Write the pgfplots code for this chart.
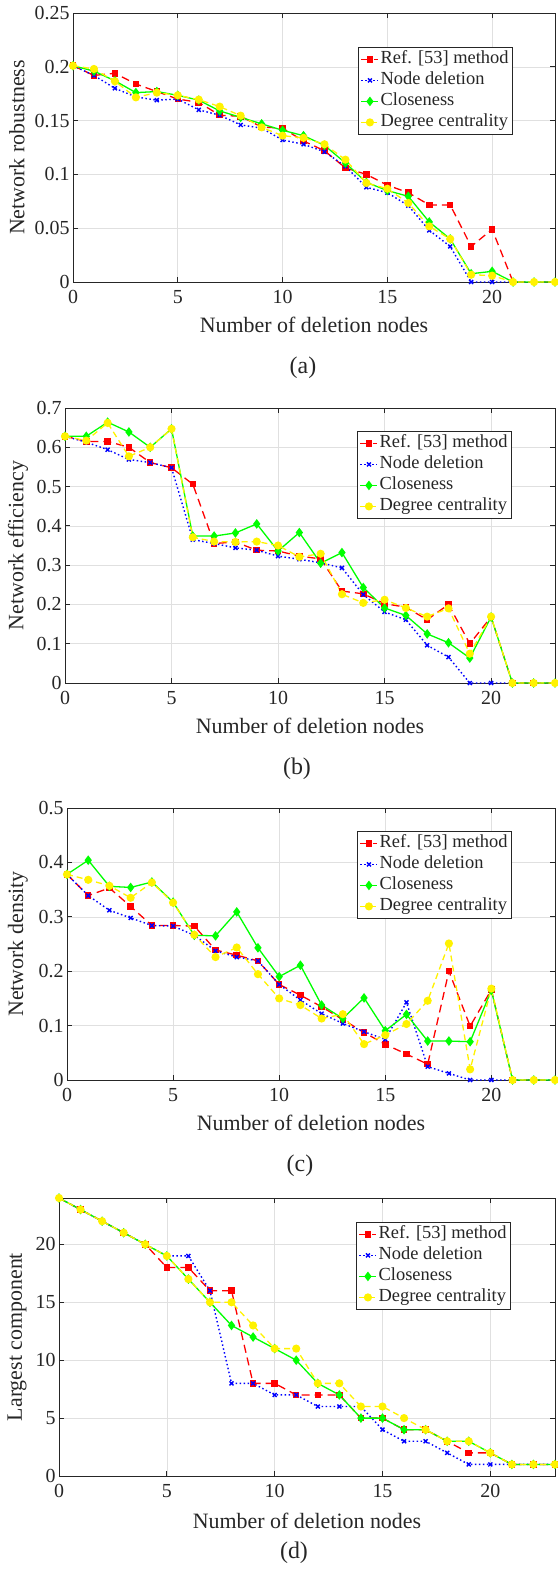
\documentclass[border=0pt]{standalone}
\usepackage{fontspec}
\setmainfont{Liberation Serif}
\usepackage{pgfplots}
\pgfplotsset{compat=1.18}
\usepackage{pgfplotstable}

% columns: n = deleted nodes, r = Ref. [53], b = node deletion, g = closeness, y = degree centrality
\pgfplotstableread{
n r b g y
0 0.201 0.201 0.201 0.201
1 0.192 0.192 0.196 0.198
2 0.194 0.180 0.187 0.1865
3 0.184 0.172 0.176 0.1716
4 0.177 0.169 0.177 0.176
5 0.170 0.170 0.1735 0.1735
6 0.167 0.160 0.169 0.1695
7 0.155 0.155 0.159 0.163
8 0.154 0.146 0.153 0.1546
9 0.144 0.143 0.147 0.1437
10 0.143 0.132 0.141 0.136
11 0.131 0.128 0.136 0.134
12 0.122 0.121 0.127 0.128
13 0.106 0.1075 0.1106 0.1137
14 0.100 0.088 0.0926 0.092
15 0.090 0.083 0.085 0.0867
16 0.083 0.071 0.0796 0.0734
17 0.0716 0.048 0.0558 0.0517
18 0.0716 0.033 0.040 0.040
19 0.033 0 0.0077 0.0068
20 0.049 0 0.0099 0.0059
21 0 0 0 0
22 0 0 0 0
23 0 0 0 0
}\robust

\pgfplotstableread{
n r b g y
0 0.628 0.628 0.628 0.628
1 0.615 0.613 0.628 0.617
2 0.615 0.594 0.664 0.662
3 0.600 0.569 0.639 0.577
4 0.561 0.561 0.600 0.600
5 0.548 0.548 0.647 0.647
6 0.506 0.365 0.374 0.371
7 0.355 0.355 0.374 0.360
8 0.359 0.344 0.382 0.359
9 0.338 0.338 0.405 0.360
10 0.336 0.323 0.336 0.350
11 0.323 0.315 0.383 0.321
12 0.316 0.306 0.305 0.329
13 0.234 0.293 0.332 0.226
14 0.227 0.225 0.243 0.204
15 0.202 0.181 0.191 0.212
16 0.193 0.161 0.172 0.191
17 0.161 0.096 0.125 0.169
18 0.200 0.066 0.1025 0.190
19 0.100 0 0.0636 0.0746
20 0.168 0 0.168 0.169
21 0 0 0 0
22 0 0 0 0
23 0 0 0 0
}\efficiency

\pgfplotstableread{
n r b g y
0 0.378 0.378 0.378 0.378
1 0.339 0.339 0.404 0.368
2 0.353 0.312 0.356 0.357
3 0.319 0.298 0.354 0.335
4 0.284 0.284 0.364 0.363
5 0.284 0.283 0.327 0.326
6 0.283 0.266 0.266 0.267
7 0.239 0.2375 0.265 0.226
8 0.2295 0.226 0.309 0.2436
9 0.219 0.219 0.243 0.1946
10 0.1756 0.1756 0.190 0.150
11 0.156 0.147 0.211 0.1377
12 0.1346 0.122 0.1377 0.113
13 0.111 0.104 0.113 0.121
14 0.0875 0.0887 0.151 0.066
15 0.0655 0.0747 0.0906 0.0826
16 0.0477 0.1426 0.1206 0.103
17 0.029 0.0245 0.0716 0.1457
18 0.200 0.0122 0.0716 0.251
19 0.099 0 0.0704 0.0196
20 0.166 0 0.165 0.168
21 0 0 0 0
22 0 0 0 0
23 0 0 0 0
}\density

\pgfplotstableread{
n r b g y
0 24 24 24 24
1 23 23 23 23
2 22 22 22 22
3 21 21 21 21
4 20 20 20 20
5 18 19 19 19
6 18 19 17 17
7 16 16 15 15
8 16 8 13 15
9 8 8 12 13
10 8 7 11 11
11 7 7 10 11
12 7 6 8 8
13 7 6 7 8
14 5 6 5 6
15 5 4 5 6
16 4 3 4 5
17 4 3 4 4
18 3 2 3 3
19 2 1 3 3
20 2 1 2 2
21 1 1 1 1
22 1 1 1 1
23 1 1 1 1
}\component

\pgfplotsset{
  panel/.style={
    scale only axis, clip=false,
    xmin=0, xmax=23, xtick={0,5,10,15,20},
    grid=major, grid style={black!12, line width=0.6bp},
    axis line style={black!85, line width=0.8bp},
    tick style={black!85, line width=0.8bp},
    major tick length=5bp, tick align=inside,
    tick label style={font=\fontsize{20}{24}\selectfont, text=black!85},
    xticklabel style={yshift=-5bp},
    label style={font=\fontsize{22}{26}\selectfont, text=black!85},
    /pgf/number format/assume math mode=true,
    scaled y ticks=false,
    yticklabel style={/pgf/number format/fixed, /pgf/number format/precision=2},
    xlabel={Number of deletion nodes},
    xlabel style={at={([yshift=-43bp]axis description cs:0.5,0)}, anchor=center},
    legend style={font=\fontsize{18.5}{21}\selectfont, text=black!85,
      draw=black!85, line width=0.8bp, fill=white,
      inner xsep=2.5bp, inner ysep=2bp, row sep=1bp,
      nodes={inner sep=1.5bp, text height=12.5bp, text depth=4.5bp},
      cells={anchor=west}},
  },
  refline/.style={red, line width=1.3bp, dash pattern=on 8bp off 5bp,
    mark=square*, mark size=2.6bp, mark options={solid}},
  nodeline/.style={blue, line width=1.4bp, dash pattern=on 1.5bp off 2.5bp,
    mark=x, mark size=2.8bp, mark options={solid}},
  closeline/.style={green, line width=1.3bp, solid,
    mark=diamond*, mark size=3.8bp},
  degline/.style={yellow, line width=1.3bp, dash pattern=on 6bp off 4bp,
    mark=*, mark size=3.4bp, mark options={solid}},
}

\begin{document}
\begin{tikzpicture}
\useasboundingbox (0,0) rectangle (558bp,-1570bp);

% (a) robustness
\begin{axis}[panel, at={(73bp,-282bp)}, anchor=south west,
  width=482bp, height=269bp,
  ymin=0, ymax=0.25, ytick={0,0.05,0.1,0.15,0.2,0.25},
  ylabel={Network robustness},
  ylabel style={at={([xshift=-56bp]axis description cs:0,0.5)}, anchor=center},
  legend style={at={([xshift=-42bp,yshift=-34bp]axis description cs:1,1)}, anchor=north east}]
\addplot[refline] table[x=n, y=r] {\robust};
\addplot[nodeline] table[x=n, y=b] {\robust};
\addplot[closeline] table[x=n, y=g] {\robust};
\addplot[degline] table[x=n, y=y] {\robust};
\legend{Ref. [53] method, Node deletion, Closeness, Degree centrality}
\end{axis}
\node[font=\fontsize{24}{28}\selectfont, text=black!85] at (303bp,-368bp) {(a)};

% (b) efficiency
\begin{axis}[panel, at={(65bp,-683bp)}, anchor=south west,
  width=490bp, height=275bp,
  ymin=0, ymax=0.7, ytick={0,0.1,0.2,0.3,0.4,0.5,0.6,0.7},
  ylabel={Network efficiency},
  ylabel style={at={([xshift=-47bp]axis description cs:0,0.5)}, anchor=center},
  legend style={at={([xshift=-43bp,yshift=-23bp]axis description cs:1,1)}, anchor=north east}]
\addplot[refline] table[x=n, y=r] {\efficiency};
\addplot[nodeline] table[x=n, y=b] {\efficiency};
\addplot[closeline] table[x=n, y=g] {\efficiency};
\addplot[degline] table[x=n, y=y] {\efficiency};
\legend{Ref. [53] method, Node deletion, Closeness, Degree centrality}
\end{axis}
\node[font=\fontsize{24}{28}\selectfont, text=black!85] at (297bp,-769bp) {(b)};

% (c) density
\begin{axis}[panel, at={(67bp,-1080bp)}, anchor=south west,
  width=488bp, height=272bp,
  ymin=0, ymax=0.5, ytick={0,0.1,0.2,0.3,0.4,0.5},
  ylabel={Network density},
  ylabel style={at={([xshift=-49bp]axis description cs:0,0.5)}, anchor=center},
  legend style={at={([xshift=-43bp,yshift=-23bp]axis description cs:1,1)}, anchor=north east}]
\addplot[refline] table[x=n, y=r] {\density};
\addplot[nodeline] table[x=n, y=b] {\density};
\addplot[closeline] table[x=n, y=g] {\density};
\addplot[degline] table[x=n, y=y] {\density};
\legend{Ref. [53] method, Node deletion, Closeness, Degree centrality}
\end{axis}
\node[font=\fontsize{24}{28}\selectfont, text=black!85] at (300bp,-1166bp) {(c)};

% (d) largest component
\begin{axis}[panel, at={(59bp,-1476bp)}, anchor=south west,
  width=496bp, height=278bp,
  ymin=0, ymax=24, ytick={0,5,10,15,20},
  ylabel={Largest component},
  ylabel style={at={([xshift=-42bp]axis description cs:0,0.5)}, anchor=center},
  xlabel style={at={([yshift=-45bp]axis description cs:0.5,0)}, anchor=center},
  legend style={at={([xshift=-44bp,yshift=-24bp]axis description cs:1,1)}, anchor=north east}]
\addplot[refline] table[x=n, y=r] {\component};
\addplot[nodeline] table[x=n, y=b] {\component};
\addplot[closeline] table[x=n, y=g] {\component};
\addplot[degline] table[x=n, y=y] {\component};
\legend{Ref. [53] method, Node deletion, Closeness, Degree centrality}
\end{axis}
\node[font=\fontsize{24}{28}\selectfont, text=black!85] at (294bp,-1553bp) {(d)};
\end{tikzpicture}
\end{document}
